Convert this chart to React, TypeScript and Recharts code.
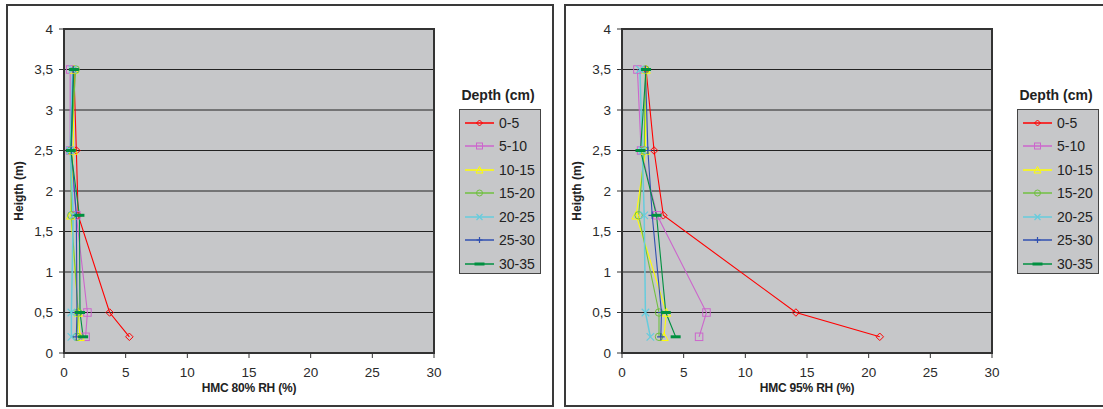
import React from 'react';
import { LineChart, Line, XAxis, YAxis, CartesianGrid, ReferenceArea, Legend } from 'recharts';

// ---------- data ----------
const heights = [3.5, 2.5, 1.7, 0.5, 0.2];
const depthLabels = ['0-5', '5-10', '10-15', '15-20', '20-25', '25-30', '30-35'];
const xTicks = [0, 5, 10, 15, 20, 25, 30];
const yTicks = [0, 0.5, 1, 1.5, 2, 2.5, 3, 3.5, 4];

// HMC at 80% RH (%), per depth, at heights above
const rh80_0_5 = [0.8, 1.0, 1.15, 3.7, 5.3];
const rh80_5_10 = [0.5, 0.5, 1.0, 1.9, 1.75];
const rh80_10_15 = [0.8, 0.75, 0.55, 1.15, 1.3];
const rh80_15_20 = [0.95, 0.55, 0.6, 1.15, 1.05];
const rh80_20_25 = [0.7, 0.5, 0.75, 0.6, 0.6];
const rh80_25_30 = [0.75, 0.6, 1.0, 1.05, 1.0];
const rh80_30_35 = [0.8, 0.55, 1.25, 1.3, 1.55];

// HMC at 95% RH (%)
const rh95_0_5 = [1.95, 2.6, 3.35, 14.1, 20.9];
const rh95_5_10 = [1.25, 1.55, 2.85, 6.85, 6.25];
const rh95_10_15 = [1.95, 1.9, 1.15, 3.6, 3.4];
const rh95_15_20 = [1.9, 1.8, 1.35, 3.0, 3.0];
const rh95_20_25 = [1.45, 1.65, 1.8, 1.9, 2.3];
const rh95_25_30 = [1.9, 2.1, 2.45, 3.2, 3.15];
const rh95_30_35 = [1.95, 1.5, 2.8, 3.55, 4.35];

// ---------- styles ----------
const COLORS = ['#FF0000', '#CC66CC', '#FFFF00', '#70C040', '#66CCDD', '#3050B0', '#009040'];
const SHAPES = ['diamond', 'square', 'triangle', 'circle', 'x', 'plus', 'dash'];
const FONT = '"Liberation Sans", Arial, Helvetica, sans-serif';

function Marker({ shape, color, cx, cy, size = 7.5 }: any) {
  if (cx == null || cy == null) return null;
  const r = size / 2;
  switch (shape) {
    case 'diamond':
      return <polygon points={`${cx},${cy - r} ${cx + r},${cy} ${cx},${cy + r} ${cx - r},${cy}`} fill="none" stroke={color} strokeWidth={1} />;
    case 'square':
      return <rect x={cx - r} y={cy - r} width={size} height={size} fill="none" stroke={color} strokeWidth={1} />;
    case 'triangle':
      return <polygon points={`${cx},${cy - r - 0.5} ${cx + r + 0.5},${cy + r} ${cx - r - 0.5},${cy + r}`} fill="none" stroke={color} strokeWidth={1} />;
    case 'circle':
      return <circle cx={cx} cy={cy} r={r} fill="none" stroke={color} strokeWidth={1} />;
    case 'x':
      return <path d={`M${cx - r},${cy - r}L${cx + r},${cy + r}M${cx + r},${cy - r}L${cx - r},${cy + r}`} fill="none" stroke={color} strokeWidth={1.2} />;
    case 'plus':
      return <path d={`M${cx - r},${cy}L${cx + r},${cy}M${cx},${cy - r}L${cx},${cy + r}`} fill="none" stroke={color} strokeWidth={1.2} />;
    case 'dash':
      return <rect x={cx - 5} y={cy - 1.5} width={10} height={3} fill={color} />;
    default:
      return null;
  }
}

function LegendBox() {
  return (
    <div style={{ fontFamily: FONT, color: '#222' }}>
      <div style={{ width: 92, textAlign: 'center', fontWeight: 'bold', fontSize: 14, lineHeight: '18px', height: 23 }}>Depth (cm)</div>
      <div
        style={{
          marginLeft: 7,
          width: 82,
          height: 165,
          boxSizing: 'border-box',
          border: '1px solid #444',
          background: '#C6C7C9',
          paddingTop: 1,
        }}
      >
        {depthLabels.map((lab, i) => (
          <div key={lab} style={{ height: 23.5, display: 'flex', alignItems: 'center' }}>
            <svg width={35} height={14} style={{ marginLeft: 4, flex: 'none' }}>
              <line x1={1} y1={7} x2={30} y2={7} stroke={COLORS[i]} strokeWidth={1.5} />
              <Marker shape={SHAPES[i]} color={COLORS[i]} cx={15.5} cy={7} size={6} />
            </svg>
            <span style={{ fontSize: 14, lineHeight: '16px' }}>{lab}</span>
          </div>
        ))}
      </div>
    </div>
  );
}

const fmtY = (v: number) => String(v).replace('.', ',');

function Panel({ series, xLabel, left }: { series: number[][]; xLabel: string; left: number }) {
  const rows = heights.map((h, i) => {
    const row: any = { h };
    series.forEach((s, k) => {
      row['s' + k] = s[i];
    });
    return row;
  });
  return (
    <div style={{ position: 'absolute', left, top: 0 }}>
      <LineChart
        layout="vertical"
        width={555}
        height={409}
        data={rows}
        margin={{ top: 29, right: 121, bottom: 0, left: 0 }}
      >
        <CartesianGrid horizontal vertical={false} stroke="#222" strokeWidth={1} fill="#C6C7C9" fillOpacity={1} />
        <XAxis
          type="number"
          domain={[0, 30]}
          ticks={xTicks}
          interval={0}
          height={56}
          tickSize={5}
          tickMargin={9}
          axisLine={{ stroke: '#333', strokeWidth: 1.5 }}
          tickLine={{ stroke: '#333' }}
          tick={{ fill: '#2a2a2a', fontSize: 13.5, fontFamily: FONT }}
          label={{
            value: xLabel,
            position: 'insideBottom',
            offset: 17,
            style: { fontWeight: 'bold', fontSize: 12, fontFamily: FONT, fill: '#222', letterSpacing: '-0.2px' },
          }}
        />
        <YAxis
          type="number"
          dataKey="h"
          domain={[0, 4]}
          ticks={yTicks}
          interval={0}
          reversed
          width={64}
          tickSize={5}
          tickMargin={6}
          tickFormatter={fmtY}
          axisLine={{ stroke: '#333', strokeWidth: 1.5 }}
          tickLine={{ stroke: '#333' }}
          tick={{ fill: '#2a2a2a', fontSize: 13.5, fontFamily: FONT }}
          label={{
            value: 'Heigth (m)',
            angle: -90,
            position: 'insideLeft',
            offset: 19,
            style: { fontWeight: 'bold', fontSize: 12, fontFamily: FONT, fill: '#222', textAnchor: 'middle' },
          }}
        />
        <ReferenceArea x1={0} x2={30} y1={0} y2={4} fill="none" fillOpacity={0} stroke="#333" strokeWidth={2} />
        {series.map((_, k) => (
          <Line
            key={k}
            type="linear"
            dataKey={'s' + k}
            name={depthLabels[k]}
            stroke={COLORS[k]}
            strokeWidth={k === 4 ? 1.5 : 1.1}
            isAnimationActive={false}
            legendType="none"
            dot={(p: any) => <Marker key={`d${k}-${p.index}`} shape={SHAPES[k]} color={COLORS[k]} cx={p.cx} cy={p.cy} />}
            activeDot={false}
          />
        ))}
        <Legend
          layout="horizontal"
          verticalAlign="middle"
          align="center"
          wrapperStyle={{ left: 452, top: 86, width: 100, height: 190 }}
          content={() => <LegendBox />}
        />
      </LineChart>
    </div>
  );
}

export default function App() {
  const s80 = [rh80_0_5, rh80_5_10, rh80_10_15, rh80_15_20, rh80_20_25, rh80_25_30, rh80_30_35];
  const s95 = [rh95_0_5, rh95_5_10, rh95_10_15, rh95_15_20, rh95_20_25, rh95_25_30, rh95_30_35];
  return (
    <div style={{ position: 'absolute', left: 0, top: 0, width: 1103, height: 409, background: '#fff', overflow: 'hidden' }}>
      <div style={{ position: 'absolute', left: 6, top: 4, width: 548, height: 403, boxSizing: 'border-box', border: '2px solid #3a3a3a' }} />
      <div style={{ position: 'absolute', left: 564, top: 4, width: 560, height: 403, boxSizing: 'border-box', border: '2px solid #3a3a3a' }} />
      <Panel series={s80} xLabel="HMC 80% RH (%)" left={0} />
      <Panel series={s95} xLabel="HMC 95% RH (%)" left={558} />
    </div>
  );
}
